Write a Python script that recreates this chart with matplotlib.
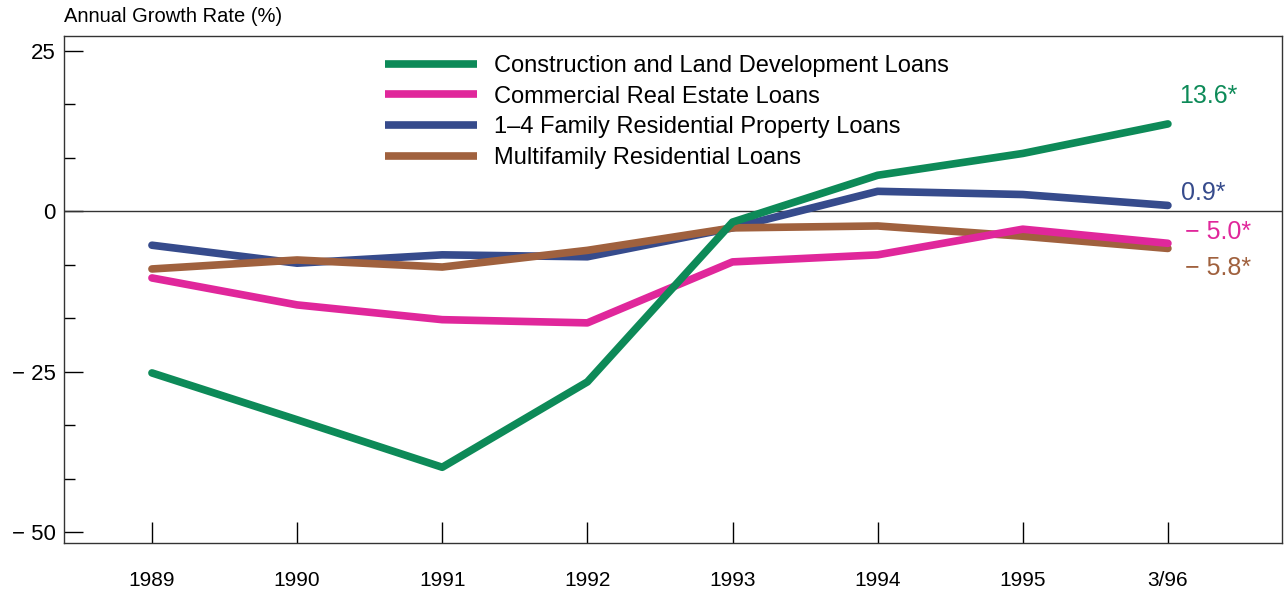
import numpy as np
import matplotlib.pyplot as plt
from matplotlib.ticker import FixedLocator

plt.rcParams['font.family'] = ['Liberation Sans', 'DejaVu Sans']

# annual growth rates of loan categories (%)
periods = ['1989', '1990', '1991', '1992', '1993', '1994', '1995', '3/96']
construction = [-25.2, -32.5, -39.9, -26.6, -1.7, 5.6, 9.0, 13.6]
commercial = [-10.4, -14.6, -16.9, -17.4, -7.9, -6.8, -2.8, -5.0]
family_1_4 = [-5.3, -8.1, -6.8, -7.1, -2.6, 3.1, 2.6, 0.9]
multifamily = [-9.0, -7.6, -8.7, -6.1, -2.6, -2.3, -3.9, -5.8]

names = ['Construction and Land Development Loans',
         'Commercial Real Estate Loans',
         '1\u20134 Family Residential Property Loans',
         'Multifamily Residential Loans']
colors = ['#0d8a58', '#e0279b', '#364b8c', '#a0613e']
end_labels = ['13.6*', '\u2212 5.0*', '0.9*', '\u2212 5.8*']

fig = plt.figure(figsize=(12.84, 5.96), dpi=100)
ax = fig.add_axes([64/1284, 1 - 543/596, (1282-64)/1284, (543-36)/596])

x = np.arange(len(periods))
series = [construction, commercial, family_1_4, multifamily]
order = [2, 3, 1, 0]  # draw order so green sits on top
lines = {}
for i in order:
    ln, = ax.plot(x, series[i], color=colors[i], lw=5.5,
                  solid_capstyle='round', solid_joinstyle='round', zorder=3 + order.index(i))
    lines[i] = ln

ax.axhline(0, color='#333333', lw=1.0, zorder=2)

ax.set_xlim(-0.606, 7.786)
ax.set_ylim(-51.7, 27.3)

# end-of-series value labels
label_y = [17.9, -3.2, 2.9, -8.8]
label_x = [7.08, 7.12, 7.09, 7.12]
for i in range(4):
    ax.text(label_x[i], label_y[i], end_labels[i], color=colors[i],
            fontsize=18, va='center', ha='left')

ax.set_xticks(x)
ax.set_xticklabels(periods, fontsize=15)
ax.tick_params(axis='x', direction='in', length=15, width=1, pad=20)
ax.set_yticks([25, 0, -25, -50])
ax.set_yticklabels(['25', '0', '\u2212 25', '\u2212 50'], fontsize=16)
ax.yaxis.set_minor_locator(FixedLocator([25 - k * 25 / 3 for k in range(10)]))
ax.tick_params(axis='y', which='major', direction='in', length=14, width=1, pad=6)
ax.tick_params(axis='y', which='minor', direction='in', length=8, width=1)
for s in ax.spines.values():
    s.set_color('#333333')
    s.set_linewidth(1.0)

leg = ax.legend([lines[i] for i in range(4)], names, loc='upper left',
                bbox_to_anchor=(321/1218, 1 - 19/507), frameon=False,
                fontsize=17, handlelength=3.9, handletextpad=0.7,
                labelspacing=0.37, borderaxespad=0, borderpad=0)
for h in leg.get_lines():
    h.set_linewidth(5.5)
    h.set_solid_capstyle('butt')

fig.text(64/1284, 1 - 17/596, 'Annual Growth Rate (%)', fontsize=14.5,
         va='center', ha='left')

fig.savefig('out.png', dpi=100)
